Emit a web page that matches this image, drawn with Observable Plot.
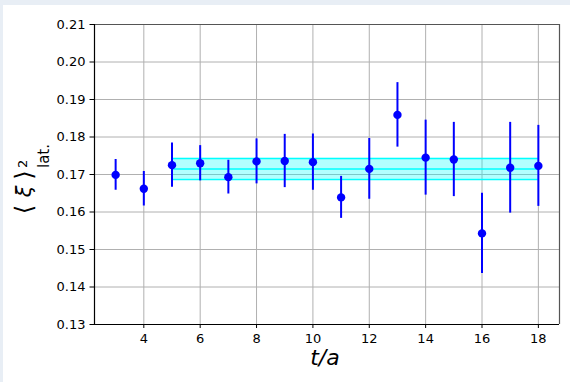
<!DOCTYPE html>
<html>
<head>
<meta charset="utf-8">
<script src="https://cdn.jsdelivr.net/npm/d3@7"></script>
<script src="https://cdn.jsdelivr.net/npm/@observablehq/plot@0.6"></script>
<style>
  html, body { margin: 0; padding: 0; background: #e8eef5; width: 570px; height: 382px; overflow: hidden; }
  #chart { position: absolute; left: 3px; top: 5px; width: 567px; height: 377px; background: #ffffff; }
</style>
</head>
<body>
<div id="chart"></div>
<script>
// ---- data ----
const tValues = [3, 4, 5, 6, 7, 8, 9, 10, 11, 12, 13, 14, 15, 16, 17, 18];
const means   = [0.1699, 0.1662, 0.1725, 0.1730, 0.1693, 0.1735, 0.1736, 0.1733, 0.1639, 0.1715, 0.1859, 0.1745, 0.1740, 0.1543, 0.1718, 0.1723];
const errors  = [0.0041, 0.0046, 0.0059, 0.0047, 0.0045, 0.0060, 0.0071, 0.0075, 0.0056, 0.0081, 0.0086, 0.0100, 0.0099, 0.0107, 0.0121, 0.0108];
const bandRange = [5, 18];          // fit range in t/a
const bandCenter = 0.1715;
const bandError = 0.0028;
const xTicks = [4, 6, 8, 10, 12, 14, 16, 18];
const yTicks = [0.13, 0.14, 0.15, 0.16, 0.17, 0.18, 0.19, 0.20, 0.21];
const xDomain = [2.25, 18.75];
const yDomain = [0.13, 0.21];

const points = tValues.map((t, i) => ({t, v: means[i], e: errors[i]}));
const band = [{t1: bandRange[0], t2: bandRange[1], lo: bandCenter - bandError, hi: bandCenter + bandError}];
const bandLines = [
  {t1: bandRange[0], t2: bandRange[1], y: bandCenter - bandError},
  {t1: bandRange[0], t2: bandRange[1], y: bandCenter},
  {t1: bandRange[0], t2: bandRange[1], y: bandCenter + bandError}
];

const chart = Plot.plot({
  width: 567,
  height: 377,
  marginLeft: 91,
  marginTop: 19,
  marginRight: 11,
  marginBottom: 58,
  x: {domain: xDomain},
  y: {domain: yDomain},
  style: {fontFamily: "DejaVu Sans", fontSize: "13px", color: "#000", background: "#fff", overflow: "visible"},
  marks: [
    Plot.gridX(xTicks, {stroke: "#b0b0b0", strokeOpacity: 1, strokeWidth: 1}),
    Plot.gridY(yTicks, {stroke: "#b0b0b0", strokeOpacity: 1, strokeWidth: 1}),
    Plot.rect(band, {x1: "t1", x2: "t2", y1: "lo", y2: "hi", fill: "cyan", fillOpacity: 0.3}),
    Plot.ruleY(bandLines, {x1: "t1", x2: "t2", y: "y", stroke: "cyan", strokeWidth: 1.5}),
    Plot.ruleX(points, {x: "t", y1: d => d.v - d.e, y2: d => d.v + d.e, stroke: "blue", strokeWidth: 2}),
    Plot.dot(points, {x: "t", y: "v", r: 4.2, fill: "blue", stroke: null}),
    Plot.axisX(xTicks, {tickSize: 4, tickPadding: 5.5, label: null, fontSize: 13}),
    Plot.axisY(yTicks, {tickSize: 4.5, tickPadding: 4.5, tickFormat: d3.format(".2f"), label: null, fontSize: 13}),
    Plot.ruleX([xDomain[1]], {stroke: "#555", strokeWidth: 1.2}),
    Plot.ruleY([yDomain[1]], {stroke: "#555", strokeWidth: 1.2}),
    Plot.ruleX([xDomain[0]], {stroke: "#000", strokeWidth: 1.2}),
    Plot.ruleY([yDomain[0]], {stroke: "#000", strokeWidth: 1.2})
  ]
});

document.getElementById("chart").appendChild(chart);

// axis titles
const svg = d3.select(chart);
svg.append("text")
  .attr("x", 322)
  .attr("y", 360)
  .attr("text-anchor", "middle")
  .attr("font-family", "DejaVu Sans")
  .attr("font-style", "italic")
  .attr("font-size", 22)
  .attr("fill", "#000")
  .text("t/a");

const g = svg.append("g").attr("transform", "translate(0,172.5) rotate(-90)");
const mk = (txt, x, y, size, italic, anchor) => g.append("text")
  .attr("x", x).attr("y", y)
  .attr("text-anchor", anchor || "middle")
  .attr("font-family", "DejaVu Sans")
  .attr("font-style", italic ? "italic" : "normal")
  .attr("font-size", size)
  .attr("fill", "#000")
  .text(txt);
mk("⟨", -32, 29, 24, false);
mk("ξ", -14, 28, 21, true);
mk("⟩", 2.5, 29, 24, false);
mk("2", 9.5, 23.5, 13, false, "start");
mk("lat.", 9.5, 45.5, 15, false, "start");
</script>
</body>
</html>
